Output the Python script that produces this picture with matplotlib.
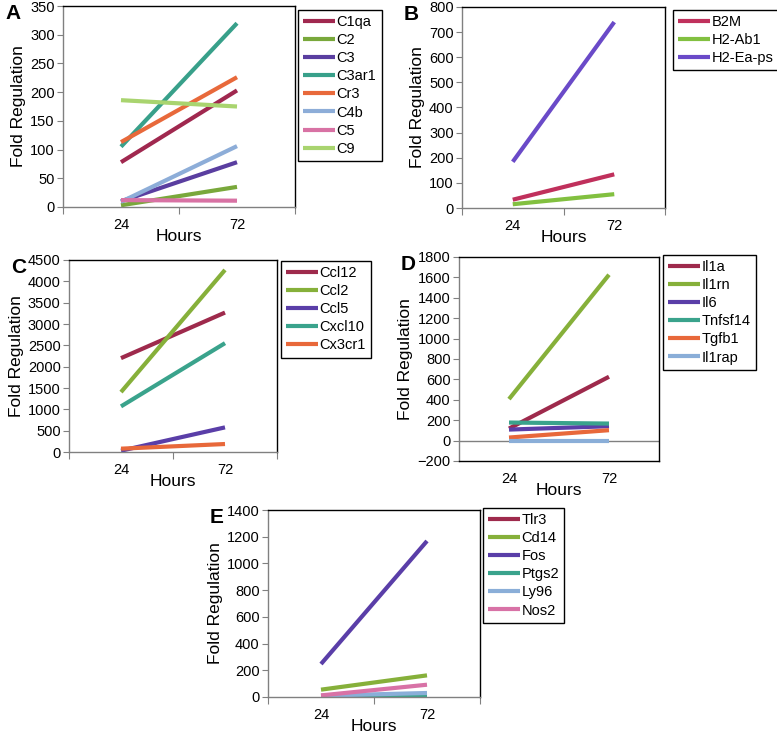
import matplotlib
matplotlib.use("Agg")
import matplotlib.pyplot as plt

plt.rcParams['font.family'] = ['Liberation Sans', 'DejaVu Sans']

HOURS = ["24", "72"]

# Panel A - complement
A_GENES = ["C1qa", "C2", "C3", "C3ar1", "Cr3", "C4b", "C5", "C9"]
A_VALUES = [[78, 203], [3, 35], [10, 78], [105, 320], [113, 226], [9, 106], [12, 11], [186, 175]]
A_COLORS = ["#A0284F", "#79A83B", "#5A3EA0", "#38A08A", "#E8693B", "#8DADD8", "#D872A4", "#A9D46F"]

# Panel B - MHC
B_GENES = ["B2M", "H2-Ab1", "H2-Ea-ps"]
B_VALUES = [[33, 134], [15, 55], [184, 740]]
B_COLORS = ["#C0305C", "#82C040", "#6A4AC8"]

# Panel C - chemokines
C_GENES = ["Ccl12", "Ccl2", "Ccl5", "Cxcl10", "Cx3cr1"]
C_VALUES = [[2200, 3268], [1404, 4267], [30, 577], [1069, 2551], [78, 187]]
C_COLORS = ["#9E2A4C", "#86B03A", "#5A3EA8", "#3AA38C", "#E8683A"]

# Panel D - cytokines
D_GENES = ["Il1a", "Il1rn", "Il6", "Tnfsf14", "Tgfb1", "Il1rap"]
D_VALUES = [[118, 626], [407, 1626], [108, 141], [177, 167], [30, 102], [0, 0]]
D_COLORS = ["#9E2A4C", "#86B03A", "#5A3EA8", "#3AA38C", "#E8683A", "#8AAED8"]

# Panel E - innate signalling
E_GENES = ["Tlr3", "Cd14", "Fos", "Ptgs2", "Ly96", "Nos2"]
E_VALUES = [[3, 5], [55, 162], [247, 1168], [5, 5], [10, 30], [12, 92]]
E_COLORS = ["#9E2A4C", "#86B03A", "#5A3EA8", "#3AA38C", "#8AAED8", "#D872A6"]

W, H = 777, 735


def rect(left, top, right, bottom):
    return [left / W, (H - bottom) / H, (right - left) / W, (bottom - top) / H]


def panel(fig, letter, box, legend_xy, genes, values, colors, ylim, ystep, zero_line=False):
    ax = fig.add_axes(rect(*box))
    lines = []
    for gene, vals, col in zip(genes, values, colors):
        ln, = ax.plot([0.5, 1.5], vals, color=col, lw=3, label=gene, solid_capstyle='butt')
        lines.append(ln)
    ax.set_xlim(0, 2)
    ax.set_ylim(*ylim)
    ax.set_yticks(range(ylim[0], ylim[1] + 1, ystep))
    ax.set_xticks([0, 1, 2])
    ax.set_xticklabels([])
    ax.set_xticks([0.5, 1.5], minor=True)
    ax.set_xticklabels(HOURS, minor=True)
    ax.tick_params(axis='x', which='minor', length=0, labelsize=10.5, pad=8)
    ax.tick_params(axis='x', which='major', length=5, color='#808080')
    ax.tick_params(axis='y', length=4, color='#808080', labelsize=10.5, pad=2)
    for side in ['top', 'right']:
        ax.spines[side].set_color('black')
        ax.spines[side].set_linewidth(1.0)
    for side in ['left', 'bottom']:
        ax.spines[side].set_color('#808080')
        ax.spines[side].set_linewidth(1.0)
    if zero_line:
        ax.axhline(0, color='#808080', lw=1, zorder=0)
        ax.spines['bottom'].set_color('black')
        ax.tick_params(axis='x', which='major', length=0)
    ax.set_ylabel("Fold Regulation", fontsize=12.5, labelpad=3)
    ax.set_xlabel("Hours", fontsize=12.5, labelpad=-2)
    fig.legend(handles=lines, loc='upper left',
               bbox_to_anchor=(legend_xy[0] / W, (H - legend_xy[1]) / H),
               fontsize=10.5, frameon=True, fancybox=False, edgecolor='black',
               framealpha=1, borderpad=0.35, labelspacing=0.28,
               handlelength=2.2, handletextpad=0.1, borderaxespad=0)
    fig.text(ax.get_position().x0 - 58 / W, ax.get_position().y1 + 2 / H, letter,
             fontsize=15, fontweight='bold', va='top', ha='left')
    return ax


fig = plt.figure(figsize=(W / 100, H / 100), dpi=100)

panel(fig, "A", (63, 6, 295, 207), (298, 10), A_GENES, A_VALUES, A_COLORS, (0, 350), 50)
panel(fig, "B", (462, 7, 665, 208), (673, 10), B_GENES, B_VALUES, B_COLORS, (0, 800), 100)
panel(fig, "C", (69, 260, 277, 452), (281, 261), C_GENES, C_VALUES, C_COLORS, (0, 4500), 500)
panel(fig, "D", (459, 257, 659, 461), (663, 255), D_GENES, D_VALUES, D_COLORS, (-200, 1800), 200,
      zero_line=True)
panel(fig, "E", (268, 510, 480, 697), (483, 508), E_GENES, E_VALUES, E_COLORS, (0, 1400), 200)

fig.savefig("out.png", dpi=100)
